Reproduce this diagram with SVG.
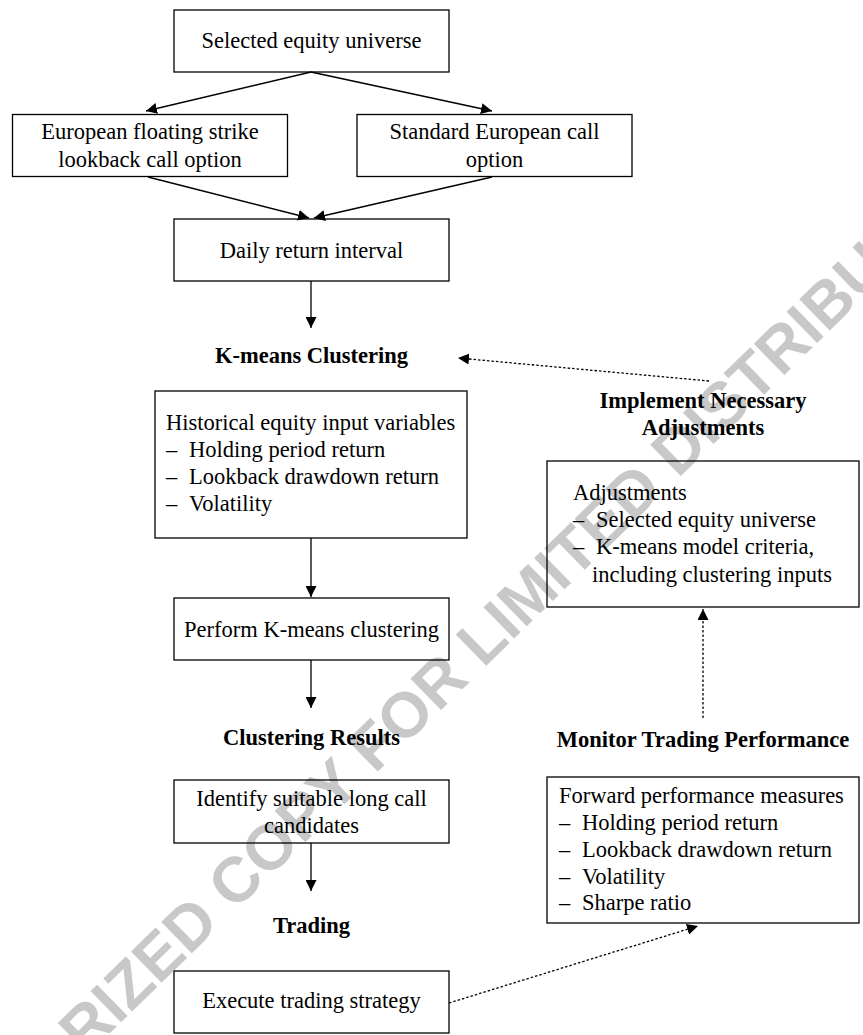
<svg xmlns="http://www.w3.org/2000/svg" width="863" height="1035" viewBox="0 0 863 1035">
<style>
.bg{fill:#ffffff}
.box{fill:none;stroke:#000;stroke-width:1.3}
.t{font-family:"Liberation Serif","Times New Roman",serif;font-size:22.5px;fill:#000}
.c{text-anchor:middle}
.b{font-weight:bold}
.ln{fill:none;stroke:#000;stroke-width:1.3}
.dot{fill:none;stroke:#000;stroke-width:1.3;stroke-dasharray:2.5 2}
.wm{font-family:"Liberation Sans",Arial,sans-serif;font-weight:bold;font-size:63.5px;fill:#c8c8c8;text-anchor:middle}
</style>
<defs>
<marker id="ah" viewBox="0 0 10 10" refX="10" refY="5" markerUnits="userSpaceOnUse" markerWidth="11" markerHeight="11" orient="auto">
<path d="M0,0 L10,5 L0,10 z" fill="#000"/>
</marker>
</defs>
<rect class="bg" x="0" y="0" width="863" height="1035"/>
<g id="watermark">
<text class="wm" x="413.6" y="727.7" transform="rotate(-44.3 413.6 705)">UNAUTHORIZED COPY FOR LIMITED DISTRIBUTION</text>
</g>
<g id="connectors">
<line class="ln" x1="311" y1="72" x2="146" y2="111" marker-end="url(#ah)"/>
<line class="ln" x1="311" y1="72" x2="492" y2="111" marker-end="url(#ah)"/>
<line class="ln" x1="148" y1="177" x2="309" y2="218" marker-end="url(#ah)"/>
<line class="ln" x1="492" y1="177" x2="314" y2="218" marker-end="url(#ah)"/>
<line class="ln" x1="311" y1="281" x2="311" y2="328" marker-end="url(#ah)"/>
<line class="ln" x1="311" y1="538" x2="311" y2="597" marker-end="url(#ah)"/>
<line class="ln" x1="311" y1="660" x2="311" y2="708" marker-end="url(#ah)"/>
<line class="ln" x1="311" y1="843" x2="311" y2="891" marker-end="url(#ah)"/>
<line class="dot" x1="709" y1="381" x2="458" y2="358" marker-end="url(#ah)"/>
<line class="dot" x1="703" y1="718" x2="703" y2="609" marker-end="url(#ah)"/>
<line class="dot" x1="449" y1="1003" x2="698" y2="926" marker-end="url(#ah)"/>
</g>
<g id="n-universe">
<rect class="box" x="174" y="10" width="275" height="62"/>
<text class="t c" x="311.5" y="48">Selected equity universe</text>
</g>
<g id="n-lookback">
<rect class="box" x="12.5" y="114.5" width="275" height="62"/>
<text class="t c" x="150" y="139">European floating strike</text>
<text class="t c" x="150" y="167">lookback call option</text>
</g>
<g id="n-standard">
<rect class="box" x="357" y="114.5" width="275" height="62"/>
<text class="t c" x="494.5" y="139">Standard European call</text>
<text class="t c" x="494.5" y="167">option</text>
</g>
<g id="n-daily">
<rect class="box" x="174" y="219" width="275" height="62"/>
<text class="t c" x="311.5" y="258">Daily return interval</text>
</g>
<g id="l-kmeans">
<text class="t c b" x="311.5" y="363">K-means Clustering</text>
</g>
<g id="n-historical">
<rect class="box" x="155" y="391" width="312" height="147"/>
<text class="t" x="166" y="430">Historical equity input variables</text>
<text class="t" x="166" y="457">–</text><text class="t" x="189" y="457">Holding period return</text>
<text class="t" x="166" y="484">–</text><text class="t" x="189" y="484">Lookback drawdown return</text>
<text class="t" x="166" y="511">–</text><text class="t" x="189" y="511">Volatility</text>
</g>
<g id="n-perform">
<rect class="box" x="174" y="598" width="275" height="62"/>
<text class="t c" x="311.5" y="637">Perform K-means clustering</text>
</g>
<g id="l-results">
<text class="t c b" x="311.5" y="745">Clustering Results</text>
</g>
<g id="n-identify">
<rect class="box" x="174" y="780" width="275" height="63"/>
<text class="t c" x="311.5" y="806">Identify suitable long call</text>
<text class="t c" x="311.5" y="833">candidates</text>
</g>
<g id="l-trading">
<text class="t c b" x="311.5" y="933">Trading</text>
</g>
<g id="n-execute">
<rect class="box" x="174" y="971" width="275" height="62"/>
<text class="t c" x="311.5" y="1008">Execute trading strategy</text>
</g>
<g id="l-implement">
<text class="t c b" x="703" y="408">Implement Necessary</text>
<text class="t c b" x="703" y="435">Adjustments</text>
</g>
<g id="n-adjustments">
<rect class="box" x="547" y="461" width="312" height="146"/>
<text class="t" x="573" y="500">Adjustments</text>
<text class="t" x="573" y="527">–</text><text class="t" x="596" y="527">Selected equity universe</text>
<text class="t" x="573" y="554">–</text><text class="t" x="596" y="554">K-means model criteria,</text>
<text class="t" x="592" y="582">including clustering inputs</text>
</g>
<g id="l-monitor">
<text class="t c b" x="703" y="747">Monitor Trading Performance</text>
</g>
<g id="n-forward">
<rect class="box" x="547" y="777" width="312" height="146"/>
<text class="t" x="559" y="803">Forward performance measures</text>
<text class="t" x="559" y="830">–</text><text class="t" x="582" y="830">Holding period return</text>
<text class="t" x="559" y="857">–</text><text class="t" x="582" y="857">Lookback drawdown return</text>
<text class="t" x="559" y="884">–</text><text class="t" x="582" y="884">Volatility</text>
<text class="t" x="559" y="910">–</text><text class="t" x="582" y="910">Sharpe ratio</text>
</g>
</svg>
